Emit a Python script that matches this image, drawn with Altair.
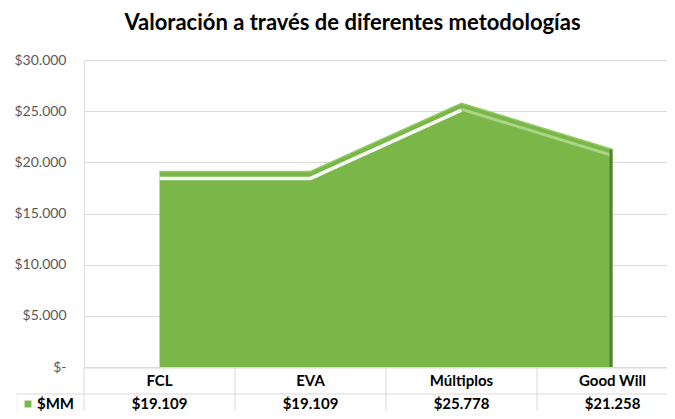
import altair as alt
import pandas as pd

categories = ["FCL", "EVA", "Múltiplos", "Good Will"]
values = [19109, 19109, 25778, 21258]
series_name = "$MM"
y_ticks = [0, 5000, 10000, 15000, 20000, 25000, 30000]
title_text = "Valoración a través de diferentes metodologías"

df = pd.DataFrame({"cat": categories, "val": values, "idx": list(range(len(categories)))})
legend_df = pd.DataFrame({"s": [series_name]})

FONT = "Lato"
W, H = 583, 307
GRID = "#d9d9d9"
GREEN = "#7AB648"

xscale = alt.Scale(type="band", domain=categories, range=[0, 604], paddingInner=0, paddingOuter=0)
yscale = alt.Scale(domain=[0, 30000], nice=False, zero=True)

xc = alt.X("cat:N", scale=xscale, sort=categories, bandPosition=0.5, axis=None)
xs = alt.X("cat:N", scale=xscale, sort=categories, bandPosition=0, axis=None)
yv = alt.Y(
    "val:Q",
    scale=yscale,
    axis=alt.Axis(
        values=y_ticks,
        labelExpr="datum.value == 0 ? '$-' : '$' + replace(format(datum.value, ','), ',', '.')",
        grid=True, gridColor=GRID, gridWidth=1, domain=False, ticks=False,
        labelFont=FONT, labelFontSize=14, labelColor="#595959", labelPadding=18, title=None,
    ),
)

base = alt.Chart(df)

area = base.mark_area(color=GREEN, interpolate="linear").encode(x=xc, y=yv)
top_line = base.mark_line(color="#8FCB60", strokeWidth=1.5).encode(x=xc, y=yv)
white_strip = base.transform_filter("datum.idx <= 2").mark_line(
    color="white", strokeWidth=3.5, yOffset=7, opacity=0.95).encode(x=xc, y=yv)
light_strip = base.transform_filter("datum.idx >= 2").mark_line(
    color="#A9D585", strokeWidth=3, yOffset=6).encode(x=xc, y=yv)
right_edge = base.transform_filter("datum.idx == 3").mark_rule(
    color="#557F35", strokeWidth=3, xOffset=-1.5).encode(x=xc, y=yv, y2=alt.value(H))

# data table
header_txt = base.mark_text(font=FONT, fontSize=15, fontWeight="bold", color="#000000").encode(
    x=xc, y=alt.value(321), text="cat:N")
value_txt = base.transform_calculate(
    label="'$' + replace(format(datum.val, ','), ',', '.')"
).mark_text(font=FONT, fontSize=15, fontWeight="bold", color="#000000").encode(
    x=xc, y=alt.value(344), text="label:N")
vlines = base.mark_rule(color=GRID).encode(x=xs, y=alt.value(308), y2=alt.value(352))
hline1 = alt.Chart(legend_df).mark_rule(color=GRID).encode(
    x=alt.value(0), x2=alt.value(W), y=alt.value(308))
hline2 = alt.Chart(legend_df).mark_rule(color=GRID).encode(
    x=alt.value(-67), x2=alt.value(W), y=alt.value(334))
lline = alt.Chart(legend_df).mark_rule(color="#eeeeee").encode(
    x=alt.value(-67), y=alt.value(334), y2=alt.value(352))
key = alt.Chart(legend_df).mark_square(size=48, color=GREEN, opacity=1).encode(
    x=alt.value(-56), y=alt.value(344))
key_txt = alt.Chart(legend_df).mark_text(font=FONT, fontSize=15, fontWeight="bold",
                                         color="#000000", align="left").encode(
    x=alt.value(-47), y=alt.value(344), text="s:N")

chart = alt.layer(
    area, top_line, white_strip, light_strip, right_edge,
    vlines, hline1, hline2, lline, header_txt, value_txt, key, key_txt,
).properties(
    width=W, height=H,
    autosize=alt.AutoSizeParams(type="none"),
    padding={"left": 76, "top": 52, "right": 0, "bottom": 44},
    title=alt.TitleParams(title_text, font=FONT, fontSize=22, fontWeight="bold",
                          color="#000000", anchor="middle", dx=-23, offset=18),
).configure_view(stroke=None).configure(background="white")

chart.save("out.html", embed_options={"renderer": "svg", "actions": False})
